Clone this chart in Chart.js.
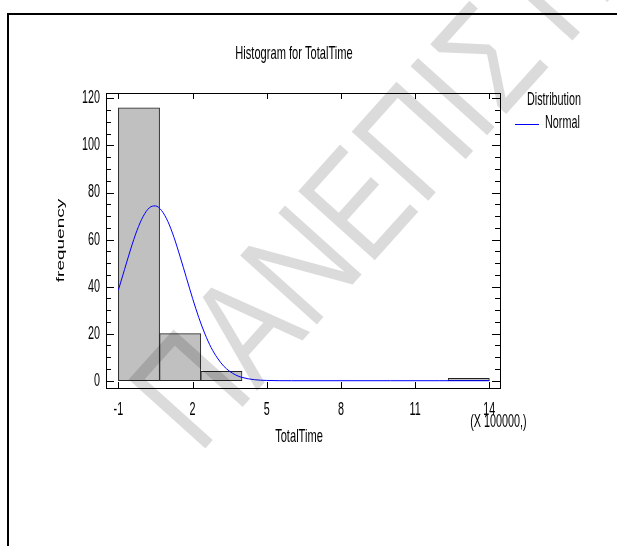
<!DOCTYPE html>
<html>
<head>
<meta charset="utf-8">
<title>Histogram for TotalTime</title>
<script src="https://cdn.jsdelivr.net/npm/chart.js@4.4.1/dist/chart.umd.min.js"></script>
<style>
  html, body { margin: 0; padding: 0; background: #fff; }
  #wrap { width: 617px; height: 546px; position: relative; }
</style>
</head>
<body>
<div id="wrap"><canvas id="histChart" width="617" height="546"></canvas></div>
<script>
// TotalTime histogram (values in units of 100000)
const binEdges = [-1, 0.667, 2.333, 4, 5.667, 7.333, 9, 10.667, 12.333, 14];
const binCounts = [116, 20, 4, 0, 0, 0, 0, 0, 1];

// fitted normal distribution, sampled along TotalTime
const curveX = [-1, -0.75, -0.5, -0.25, 0, 0.25, 0.5, 0.75, 1, 1.25, 1.5, 1.75, 2, 2.25, 2.5, 2.75, 3, 3.25, 3.5, 3.75, 4, 4.5, 5, 6, 8, 10, 12, 14];
const curveY = [38.5, 47.3, 56.0, 63.8, 69.8, 73.5, 74.3, 72.3, 67.7, 60.9, 52.6, 43.8, 35.0, 26.9, 19.9, 14.1, 9.7, 6.3, 4.0, 2.4, 1.4, 0.43, 0.11, 0, 0, 0, 0, 0];

const xTicks = [-1, 2, 5, 8, 11, 14];
const yTicks = [0, 20, 40, 60, 80, 100, 120];
const yMinorStep = 5;

const FONT = "'Liberation Sans', Arial, sans-serif";
const SQUEEZE = 0.6;   // condensed look of all the labels

// bars sit at the bin centres, one bin wide
const barData = binCounts.map((c, i) => ({ x: (binEdges[i] + binEdges[i + 1]) / 2, y: c }));
const curveData = curveX.map((x, i) => ({ x: x, y: curveY[i] }));

function squeezedText(ctx, text, x, y, size, align) {
  ctx.save();
  ctx.font = size + 'px ' + FONT;
  ctx.translate(x, y);
  ctx.scale(SQUEEZE, 1);
  ctx.textAlign = align || 'center';
  ctx.textBaseline = 'middle';
  ctx.fillStyle = '#000';
  ctx.fillText(text, 0, 0);
  ctx.restore();
}

const framePlugin = {
  id: 'statFrame',
  afterDatasetsDraw(chart) {
    const ctx = chart.ctx;
    const area = chart.chartArea;
    const xs = chart.scales.x;
    const ys = chart.scales.y;

    ctx.save();
    // page border (top and left)
    ctx.fillStyle = '#000';
    ctx.fillRect(7, 13, 610, 2);
    ctx.fillRect(7, 13, 2, 533);

    // plot box
    ctx.strokeStyle = '#000';
    ctx.lineWidth = 1;
    ctx.strokeRect(Math.round(area.left) + 0.5, Math.round(area.top) + 0.5,
      Math.round(area.right - area.left), Math.round(area.bottom - area.top));

    // y ticks, pointing inward on both sides
    ctx.beginPath();
    for (let v = 0; v <= yTicks[yTicks.length - 1]; v += yMinorStep) {
      const py = Math.round(ys.getPixelForValue(v)) + 0.5;
      const len = yTicks.includes(v) ? 8 : 5;
      ctx.moveTo(area.left, py); ctx.lineTo(area.left + len, py);
      ctx.moveTo(area.right, py); ctx.lineTo(area.right - len, py);
    }
    // x ticks, top and bottom
    xTicks.forEach(v => {
      const px = Math.round(xs.getPixelForValue(v)) + 0.5;
      ctx.moveTo(px, area.top); ctx.lineTo(px, area.top + 6);
      ctx.moveTo(px, area.bottom); ctx.lineTo(px, area.bottom - 6);
    });
    ctx.stroke();

    // tick labels
    yTicks.forEach(v => squeezedText(ctx, String(v), area.left - 6, ys.getPixelForValue(v), 18, 'right'));
    xTicks.forEach(v => squeezedText(ctx, String(v), xs.getPixelForValue(v), area.bottom + 22, 18, 'center'));
    squeezedText(ctx, '(X 100000,)', xs.getPixelForValue(14) + 9, area.bottom + 34, 18, 'center');

    // titles
    squeezedText(ctx, 'Histogram for TotalTime', 294, 54, 18.5, 'center');
    squeezedText(ctx, 'TotalTime', 299, area.bottom + 49, 18.5, 'center');

    ctx.save();
    ctx.translate(61, (area.top + area.bottom) / 2);
    ctx.scale(SQUEEZE, 1);
    ctx.rotate(-Math.PI / 2);
    ctx.font = '19px ' + FONT;
    ctx.textAlign = 'center';
    ctx.textBaseline = 'middle';
    ctx.fillStyle = '#000';
    ctx.fillText('frequency', 0, 0);
    ctx.restore();

    // legend
    squeezedText(ctx, 'Distribution', 527, 100, 18, 'left');
    ctx.strokeStyle = '#0000ff';
    ctx.beginPath();
    ctx.moveTo(515, 124.5); ctx.lineTo(539, 124.5);
    ctx.stroke();
    squeezedText(ctx, 'Normal', 545, 123, 18, 'left');
    ctx.restore();
  },
  afterDraw(chart) {
    // faint diagonal watermark across the figure
    const ctx = chart.ctx;
    ctx.save();
    ctx.translate(168, 428);
    ctx.rotate(-48 * Math.PI / 180);
    ctx.scale(0.8, 1);
    ctx.font = '150px ' + FONT;
    ctx.textAlign = 'left';
    ctx.textBaseline = 'middle';
    ctx.fillStyle = 'rgba(0, 0, 0, 0.14)';
    ctx.fillText('ΠΑΝΕΠΙΣΤΗΜΙΟ', 0, 0);
    ctx.restore();
  }
};

new Chart(document.getElementById('histChart'), {
  data: {
    datasets: [
      {
        type: 'line',
        label: 'Normal',
        data: curveData,
        borderColor: '#0000ff',
        borderWidth: 1,
        pointRadius: 0,
        fill: false,
        tension: 0.4,
        cubicInterpolationMode: 'monotone',
        order: 0
      },
      {
        type: 'bar',
        label: 'frequency',
        data: barData,
        backgroundColor: '#c0c0c0',
        borderColor: '#222222',
        borderWidth: 1,
        borderSkipped: false,
        barPercentage: 1,
        categoryPercentage: 1,
        grouped: false,
        order: 1
      }
    ]
  },
  options: {
    responsive: false,
    animation: false,
    layout: { padding: { left: 106, top: 93, right: 117, bottom: 158 } },
    scales: {
      x: { type: 'linear', min: -1.5, max: 14.43, offset: false, display: false },
      y: { type: 'linear', min: -3.1, max: 122.3, display: false }
    },
    plugins: {
      legend: { display: false },
      title: { display: false },
      tooltip: { enabled: false }
    }
  },
  plugins: [framePlugin]
});
</script>
</body>
</html>
